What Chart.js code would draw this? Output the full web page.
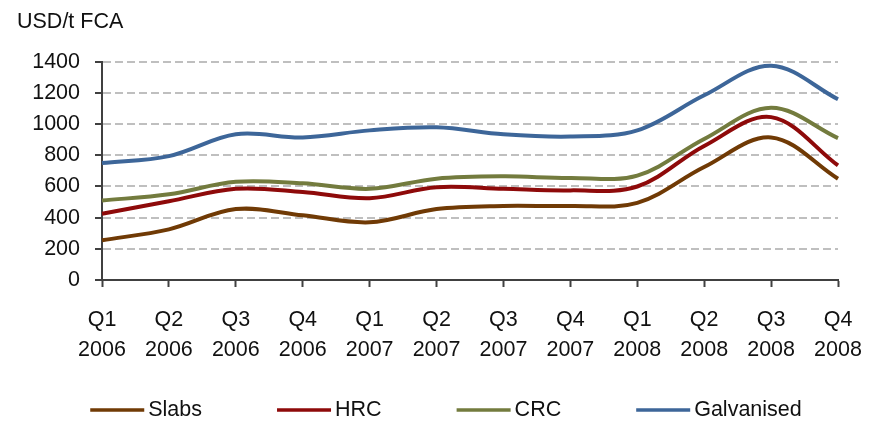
<!DOCTYPE html>
<html>
<head>
<meta charset="utf-8">
<script src="https://cdn.jsdelivr.net/npm/chart.js@4/dist/chart.umd.min.js"></script>
<style>
  html, body { margin: 0; padding: 0; background: #ffffff; }
  #wrap { width: 874px; height: 422px; position: relative; }
</style>
</head>
<body>
<div id="wrap"><canvas id="chart"></canvas></div>
<script>
// Quarterly steel prices, USD per tonne FCA
const quarters = [
  ['Q1', '2006'], ['Q2', '2006'], ['Q3', '2006'], ['Q4', '2006'],
  ['Q1', '2007'], ['Q2', '2007'], ['Q3', '2007'], ['Q4', '2007'],
  ['Q1', '2008'], ['Q2', '2008'], ['Q3', '2008'], ['Q4', '2008']
];
const slabs      = [255, 325, 455, 415, 370, 455, 475, 475, 495, 725, 915, 650];
const hrc        = [425, 505, 585, 565, 525, 595, 585, 575, 600, 860, 1045, 735];
const crc        = [510, 550, 630, 620, 585, 650, 665, 655, 670, 905, 1105, 910];
const galvanised = [750, 795, 935, 915, 960, 980, 935, 920, 960, 1185, 1375, 1160];
const yTicks     = [0, 200, 400, 600, 800, 1000, 1200, 1400];
const unitLabel  = 'USD/t FCA';

const seriesNames  = ['Slabs', 'HRC', 'CRC', 'Galvanised'];
const seriesColors = ['#703A05', '#8E0A0A', '#737B3E', '#3D6699'];
const seriesValues = [slabs, hrc, crc, galvanised];

const FONT = "'Liberation Sans', Arial, sans-serif";
const FONT_SIZE = 21.5;
const TEXT = '#111111';
const AXIS = '#404040';

// Legend drawn as a single centred row of line swatches under the axis labels
const lineLegend = {
  id: 'lineLegend',
  afterDraw(chart) {
    const ctx = chart.ctx;
    const swatch = 54, gapText = 4, gapItem = 75, y = 410;
    ctx.save();
    ctx.font = FONT_SIZE + 'px ' + FONT;
    ctx.textBaseline = 'middle';
    ctx.textAlign = 'left';
    const items = chart.data.datasets.map(ds => ({
      text: ds.label, color: ds.borderColor, w: ctx.measureText(ds.label).width
    }));
    const total = items.reduce((s, it) => s + swatch + gapText + it.w, 0) + gapItem * (items.length - 1);
    let x = (chart.width - total) / 2 + 9;
    items.forEach(it => {
      ctx.strokeStyle = it.color;
      ctx.lineWidth = 3.5;
      ctx.beginPath();
      ctx.moveTo(x, y);
      ctx.lineTo(x + swatch, y);
      ctx.stroke();
      ctx.fillStyle = TEXT;
      ctx.fillText(it.text, x + swatch + gapText, y);
      x += swatch + gapText + it.w + gapItem;
    });
    ctx.restore();
  }
};

new Chart(document.getElementById('chart'), {
  type: 'line',
  data: {
    labels: quarters,
    datasets: seriesNames.map((name, i) => ({
      label: name,
      data: seriesValues[i],
      borderColor: seriesColors[i],
      backgroundColor: seriesColors[i],
      borderWidth: 4,
      pointRadius: 0,
      tension: 0.35,
      fill: false
    }))
  },
  options: {
    responsive: true,
    maintainAspectRatio: false,
    animation: false,
    layout: { padding: { left: 17, right: 36, top: 0, bottom: 0 } },
    plugins: {
      legend: { display: false },
      tooltip: { enabled: false },
      title: {
        display: true,
        text: unitLabel,
        align: 'start',
        color: TEXT,
        font: { family: FONT, size: FONT_SIZE, weight: 'normal', lineHeight: 1.2 },
        padding: { top: 9, bottom: 27 }
      }
    },
    scales: {
      x: {
        type: 'category',
        offset: false,
        grid: {
          drawOnChartArea: false,
          drawTicks: true,
          tickLength: 7,
          tickColor: AXIS,
          tickWidth: 2,
          offset: false
        },
        border: { display: true, color: AXIS, width: 2 },
        ticks: {
          color: TEXT,
          font: { family: FONT, size: FONT_SIZE, lineHeight: 1.4 },
          padding: 18,
          maxRotation: 0,
          autoSkip: false
        },
        afterFit(scale) {
          scale.height = 142;
          scale.paddingLeft = 0;
          scale.paddingRight = 0;
        }
      },
      y: {
        min: 0,
        max: 1400,
        afterBuildTicks(scale) { scale.ticks = yTicks.map(v => ({ value: v })); },
        grid: {
          color: '#BFBFBF',
          lineWidth: 2,
          drawTicks: true,
          tickLength: 7,
          tickColor: AXIS,
          tickWidth: 2,
          tickBorderDash: []
        },
        border: { display: true, color: AXIS, width: 2, dash: [8, 4] },
        ticks: {
          color: TEXT,
          font: { family: FONT, size: FONT_SIZE },
          padding: 15,
          callback: v => String(v)
        },
        afterFit(scale) { scale.width = 85; }
      }
    }
  },
  plugins: [lineLegend]
});
</script>
</body>
</html>
